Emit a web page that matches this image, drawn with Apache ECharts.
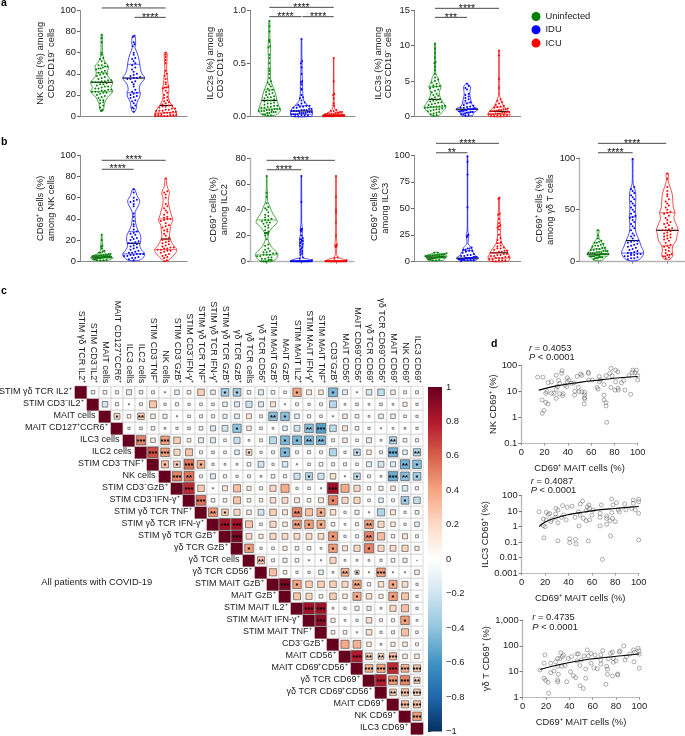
<!DOCTYPE html>
<html><head><meta charset="utf-8">
<style>html,body{margin:0;padding:0;background:#fff}#c{width:685px;height:736px}</style>
<script src="https://cdn.jsdelivr.net/npm/echarts@6/dist/echarts.min.js"></script></head>
<body><div id="c"></div>
<script>
// ---------- violin data: values, outline [value, relative density], [q1, median, q3]
const a1U=[5,5,6,8,10,12,13,15,15,17,18,19,20,21,22,22,23,23,23,24,24,25,25,26,26,27,28,28,29,30,30,31,32,32,32,33,33,34,34,35,36,37,38,39,40,40,41,42,43,44,45,45,46,47,47,48,48,50,52,54,55,58,60,70,74,77];
const a1Us=[[5,.12],[8,.2],[12,.25],[18,.55],[23,1],[27,.85],[32,1],[37,.6],[41,.5],[47,.6],[52,.25],[57,.12],[65,.06],[72,.06],[77,.05]];
const a1Uq=[23,32,41];
const a1D=[4,7,8,10,12,14,15,17,18,19,20,21,22,23,25,28,30,32,33,35,35,36,36,37,38,39,40,42,44,46,48,50,52,54,55,58,60,66,68,70,75,76];
const a1Ds=[[4,.1],[8,.25],[13,.3],[18,.55],[22,.6],[25,.5],[30,.6],[36,1],[40,.75],[45,.6],[50,.55],[55,.45],[60,.3],[65,.12],[70,.18],[76,.1]];
const a1Dq=[22,36,49];
const a1I=[0,0,0,0,0,1,1,1,2,2,2,3,3,3,4,4,5,5,5,6,6,7,7,8,9,9,10,10,11,12,13,14,15,17,18,20,22,24,26,27,27,28,30,32,35,38,40,43,50,53,56,58,60];
const a1Is=[[0,1],[1,1],[5,.9],[10,.55],[15,.3],[20,.22],[25,.3],[30,.22],[38,.14],[45,.08],[55,.12],[60,.12]];
const a1Iq=[3,10,27];
const a2U=[.01,.01,.02,.02,.03,.03,.04,.04,.04,.05,.05,.05,.06,.06,.06,.07,.07,.07,.08,.08,.09,.09,.1,.1,.11,.12,.12,.13,.14,.15,.15,.16,.17,.18,.18,.19,.2,.21,.22,.23,.24,.25,.26,.28,.3,.32,.33,.36,.4,.43,.45,.5,.55,.58,.65,.66,.7,.72,.8,.85,.9];
const a2Us=[[.01,.5],[.05,1],[.1,.85],[.15,.7],[.2,.6],[.25,.45],[.3,.25],[.35,.12],[.45,.1],[.55,.08],[.65,.12],[.72,.07],[.8,.05],[.9,.04]];
const a2Uq=[.07,.15,.25];
const a2D=[0,0,.01,.01,.01,.02,.02,.02,.02,.03,.03,.03,.03,.04,.04,.04,.05,.05,.05,.05,.06,.06,.06,.07,.07,.08,.08,.09,.09,.1,.1,.11,.12,.13,.15,.17,.18,.2,.25,.26,.3,.32,.33,.4,.46,.5,.52,.73];
const a2Ds=[[0,.9],[.03,1],[.06,.95],[.1,.6],[.14,.25],[.2,.12],[.3,.1],[.4,.06],[.5,.05],[.6,.03],[.73,.02]];
const a2Dq=[.02,.05,.1];
const a2I=[0,0,0,0,0,0,0,0,0,0,.01,.01,.01,.01,.01,.01,.01,.01,.01,.02,.02,.02,.02,.02,.03,.03,.04,.04,.05,.05,.06,.1,.12,.17,.2,.21,.33,.55];
const a2Is=[[0,1],[.01,1],[.03,.6],[.06,.15],[.1,.06],[.2,.03],[.35,.02],[.55,.01]];
const a2Iq=[0,.01,.03];
const a3U=[.1,.2,.3,.4,.5,.6,.7,.8,.9,1,1,1.1,1.2,1.2,1.3,1.3,1.4,1.4,1.5,1.5,1.6,1.7,1.8,1.9,2,2.1,2.2,2.3,2.4,2.5,2.7,2.9,3,3.2,3.4,3.6,3.8,4,4.1,4.2,4.3,4.4,4.6,4.8,5,5.2,5.5,6,6.5,7,7.5,7.7,8.3,9,9.6,10.3];
const a3Us=[[.1,.3],[.7,.7],[1.3,1],[1.8,.8],[2.4,.55],[3,.42],[3.5,.4],[4.2,.55],[4.8,.35],[5.5,.25],[6,.08],[7,.05],[8,.05],[9,.03],[10.3,.05]];
const a3Uq=[1.3,2.4,4.2];
const a3D=[.1,.2,.3,.3,.4,.5,.5,.6,.6,.7,.7,.8,.8,.9,.9,1,1,1,1,1.1,1.1,1.2,1.2,1.3,1.4,1.5,1.6,1.8,2,2.2,2.4,2.6,2.8,3,3.2,3.8,4,4.3,4.6];
const a3Ds=[[.1,.5],[.5,.6],[1,1],[1.4,.55],[2,.4],[2.7,.3],[3.2,.25],[3.8,.3],[4.2,.3],[4.6,.1]];
const a3Dq=[.6,1,1.9];
const a3I=[0,.05,.1,.1,.2,.2,.3,.3,.3,.4,.4,.4,.5,.5,.6,.6,.7,.7,.8,.8,.9,.9,1,1,1.1,1.2,1.3,1.4,1.5,1.6,1.8,2,2.2,2.4,4,5.3,8.6,9.3];
const a3Is=[[0,.9],[.4,1],[.8,.8],[1.3,.5],[1.8,.3],[2.4,.15],[3,.05],[4,.03],[5.3,.03],[7,.02],[9.3,.02]];
const a3Iq=[.3,.7,1.3];
const b1U=[1,1,1,1.5,2,2,2,2.5,2.5,3,3,3,3,3.5,3.5,3.5,4,4,4,4,4,4.5,4.5,4.5,5,5,5,5,5.5,5.5,6,6,6,7,7,8,8,9,10,12,14,15,20,25];
const b1Us=[[1,.6],[3,1],[5,.85],[7,.4],[10,.12],[14,.08],[20,.05],[25,.03]];
const b1Uq=[3,4,6];
const b1D=[1,2,3,3,4,5,5,6,6,7,7,7,8,8,9,10,11,12,13,14,15,16,17,17,18,19,20,21,22,23,25,26,27,28,30,33,35,38,42,45,52,54,56,57,58,60,65,68];
const b1Ds=[[1,.5],[4,.9],[7,1],[11,.7],[15,.55],[20,.65],[25,.6],[29,.4],[33,.25],[38,.15],[42,.12],[47,.15],[52,.4],[57,.55],[62,.3],[68,.1]];
const b1Dq=[7,17,28];
const b1I=[0,1,3,4,5,6,7,8,9,10,10,11,11,12,12,13,13,14,15,16,17,18,19,20,21,22,24,26,28,29,30,32,33,34,36,38,39,40,40,41,42,44,46,48,50,52,54,60,63,65,66,78];
const b1Is=[[0,.15],[3,.45],[7,.85],[11,1],[15,.7],[20,.45],[24,.35],[29,.4],[34,.45],[39,.65],[44,.5],[50,.35],[55,.25],[60,.25],[65,.35],[70,.15],[74,.08],[78,.07]];
const b1Iq=[11,21,40];
const b2U=[0,0,0,0,1,1,1,2,2,3,3,4,4,5,5,5,6,6,7,7,8,9,10,12,13,17,20,21,22,22,23,24,26,27,28,29,30,30,31,32,32,33,34,35,36,38,40,41,42,45,50,53,66];
const b2Us=[[0,.5],[3,.95],[6,1],[10,.55],[13,.3],[17,.12],[22,.2],[26,.5],[30,.95],[33,.85],[37,.55],[42,.3],[47,.08],[53,.06],[60,.03],[66,.03]];
const b2Uq=[5,22,32];
const b2D=[0,0,0,0,0,0,0,0,0,0,0,0,0,0,0,0,0,0,0,0,1,2,3,5,6,7,8,9,10,11,12,13,14,15,16,16,17,17,18,20,23,24,25,25,46,66];
const b2Ds=[[0,1],[1.5,.7],[3,.1],[5,.12],[9,.12],[14,.16],[17,.16],[21,.08],[25,.1],[30,.03],[46,.03],[66,.02]];
const b2Dq=[0,0,14];
const b2I=[0,0,0,0,0,0,0,0,0,0,0,0,0,0,0,0,0,0,0,0,0,0,0,0,0,1,2,3,11,12,12,12,13,20,30,38,40,50,66];
const b2Is=[[0,1],[1.5,.7],[3,.2],[6,.05],[11,.08],[13,.1],[20,.03],[30,.03],[40,.04],[50,.03],[66,.02]];
const b2Iq=[0,0,3];
const b3U=[1,1,1.5,2,2,2,2.5,2.5,3,3,3,3.5,3.5,3.5,4,4,4,4,4.5,4.5,4.5,5,5,5,5,5.5,5.5,6,6,6,6.5,7,7,7.5,8,8];
const b3Us=[[1,.7],[3,.85],[5,1],[7,.4],[8.5,.1]];
const b3Uq=[3,4,6];
const b3D=[0,1,1,1,1,2,2,2,2,2,3,3,3,3,3,3,4,4,4,5,5,6,6,7,8,9,10,10,11,11,12,12,13,23,24,25,51,82,94,99];
const b3Ds=[[1,.7],[3,1],[6,.65],[10,.45],[13,.35],[16,.08],[22,.08],[25,.12],[28,.04],[40,.02],[52,.02],[70,.02],[82,.02],[94,.02],[99,.02]];
const b3Dq=[2,3,10];
const b3I=[0,0,1,1,1,2,2,3,3,3,4,4,5,5,6,6,7,7,8,8,8,9,9,10,10,11,12,12,13,14,15,17,18,20,22,25,30,32,33,34,36,40,44,45,59,60];
const b3Is=[[0,.8],[3,1],[7,.85],[11,.65],[16,.3],[20,.18],[26,.12],[32,.16],[40,.08],[45,.08],[52,.03],[60,.05]];
const b3Iq=[3,8,17];
const b4U=[2,3,3,3,4,4,4,4,5,5,5,5,6,6,6,6,7,7,7,7,7,8,8,8,8,9,9,9,10,10,10,11,11,12,12,13,13,14,15,15,16,17,18,18,19,20,22,25,30];
const b4Us=[[1,.3],[4,.7],[7,1],[10,.75],[14,.55],[18,.35],[22,.12],[26,.06],[30,.1]];
const b4Uq=[5,7,12];
const b4D=[2,3,3,4,5,5,6,6,7,7,8,8,9,10,11,12,13,14,15,16,17,18,19,20,20,22,24,25,27,30,32,34,36,38,40,42,43,44,46,48,50,52,54,56,58,60,62,64,66,68,70,72,99];
const b4Ds=[[1,.45],[5,.9],[9,1],[14,.8],[20,.6],[28,.3],[35,.25],[43,.3],[50,.25],[58,.28],[65,.28],[70,.2],[75,.05],[85,.03],[95,.03],[99,.04]];
const b4Dq=[8,20,43];
const b4I=[3,4,5,5,6,6,7,8,10,11,13,14,15,16,18,20,21,22,23,24,25,26,27,28,29,30,30,31,32,33,35,36,37,38,40,42,44,46,47,48,50,52,54,56,58,60,63,65,68,72,80,85];
const b4Is=[[2,.25],[6,.5],[10,.45],[15,.5],[20,.8],[26,.9],[30,1],[36,.8],[42,.6],[47,.7],[52,.55],[58,.5],[65,.45],[72,.25],[78,.08],[82,.1],[85,.1]];
const b4Iq=[15,30,47];
// ---------- correlation matrix
const corrLabels=['STIM γδ TCR IL2⁺','STIM CD3⁻IL2⁺','MAIT cells','MAIT CD127⁺CCR6⁺','ILC3 cells','ILC2 cells','STIM CD3⁻TNF⁺','NK cells','STIM CD3⁻GzB⁺','STIM CD3⁻IFN-γ⁺','STIM γδ TCR TNF⁺','STIM γδ TCR IFN-γ⁺','STIM γδ TCR GzB⁺','γδ TCR GzB⁺','γδ TCR cells','γδ TCR CD56⁺','STIM MAIT GzB⁺','MAIT GzB⁺','STIM MAIT IL2⁺','STIM MAIT IFN-γ⁺','STIM MAIT TNF⁺','CD3⁻GzB⁺','MAIT CD56⁺','MAIT CD69⁺CD56⁺','γδ TCR CD69⁺','γδ TCR CD69⁺CD56⁺','MAIT CD69⁺','NK CD69⁺','ILC3 CD69⁺'];
const corrRows=[
[-.07,.08,-.06,-.15,-.07,.05,.01,-.12,.08,.25,-.12,-.35,-.35,-.08,-.15,-.08,-.04,.4,.14,.12,-.45,-.14,-.01,-.18,-.25,.12,-.05,-.05],
[-.18,-.06,-.01,.05,.28,.03,-.06,-.03,.04,-.04,-.12,-.15,-.22,-.15,.15,-.01,-.05,-.03,.05,-.28,-.02,-.04,-.02,-.04,-.02,.1,-.03],
[.2,.08,.25,.12,.1,-.01,.04,-.05,-.06,-.1,-.13,.14,-.05,-.42,-.42,-.12,-.06,-.04,-.01,.12,-.08,-.02,-.12,-.12,-.04,-.03],
[-.03,-.04,.08,.02,-.03,-.04,-.08,-.15,-.2,-.4,.12,.04,-.02,-.12,-.2,-.42,-.55,-.25,.15,.08,-.03,-.01,.02,-.02,-.03],
[.5,.12,.42,.25,.08,-.15,-.15,-.04,-.22,-.02,-.05,-.28,-.45,-.45,-.45,-.45,-.05,.12,.04,-.15,-.02,-.3,-.08,-.06],
[.65,.42,.22,.28,.05,-.04,-.04,-.12,.2,-.03,-.05,-.45,-.05,-.06,-.05,-.3,.03,-.25,.12,-.05,-.48,-.12,-.3],
[.3,.25,.55,.35,-.03,-.02,-.02,.08,-.2,-.03,-.18,-.01,-.04,.08,.06,-.05,.04,-.15,-.2,-.15,-.48,-.42],
[.5,.55,.05,-.15,-.06,-.03,.05,.02,-.08,-.06,-.22,-.3,-.22,.18,-.01,-.25,-.05,-.02,-.5,-.42,-.35],
[.75,.25,-.01,.15,.3,.1,.06,.22,.38,.03,-.04,.01,.85,.38,.22,.07,.1,.12,-.18,-.06],
[.55,.08,.08,.28,.08,.07,.18,.2,.14,.08,.14,.5,.22,.22,-.04,-.12,.05,-.35,-.25],
[.45,.25,.22,.12,-.2,.25,.15,.5,.3,.38,.18,.03,.1,-.01,-.3,.15,.03,-.08],
[.85,.85,.28,.04,.22,.12,.42,.42,.38,.08,.02,.06,.42,.22,.12,.03,-.12],
[.95,.2,.1,.22,.2,.2,.2,.2,.45,.03,.06,.5,.32,.07,.15,.05],
[.42,.03,.04,.1,-.08,-.08,.02,.42,.15,.22,.5,.22,.2,.22,.1],
[.3,.05,.1,.08,.01,.01,.22,.02,.02,-.02,.03,-.08,-.1,.002],
[.3,.08,.03,-.03,-.12,.02,.35,.1,.01,.42,.01,.01,.12],
[.95,.4,.25,.25,.25,.22,.4,.07,.18,.38,.2,.03],
[.28,.22,.08,.25,.12,.38,.18,.1,.42,.28,.03],
[.85,.85,.02,.03,.1,.1,.02,.22,.3,.03],
[.9,.1,.02,.03,.18,.05,.06,.42,.02],
[.08,.08,.01,.18,.03,.05,.3,.04],
[.38,.35,.12,.02,.1,.12,.05],
[.8,.25,.2,.3,.12,.12],
[.35,.4,.75,.35,.28],
[.8,.45,.5,.22],
[.25,.3,.25],
[.3,.3],
[.42]];
const corrStars=[[1,13,1],[1,14,1],[1,19,1],[1,22,1],[3,4,1],[3,6,2],[3,17,2],[3,18,1],[4,14,1],[4,20,2],[4,21,3],[5,6,3],[5,8,3],[5,18,1],[5,19,1],[5,20,2],[5,21,2],[5,27,2],[6,7,3],[6,8,3],[6,15,1],[6,18,1],[6,24,1],[6,27,3],[6,29,2],[7,8,1],[7,9,1],[7,10,3],[7,11,1],[7,28,2],[7,29,1],[8,9,3],[8,10,2],[8,20,1],[8,24,1],[8,27,3],[8,28,2],[8,29,1],[9,10,3],[9,22,3],[10,11,3],[10,22,1],[10,28,1],[11,12,2],[11,13,1],[11,19,2],[11,21,1],[12,13,3],[12,14,3],[12,19,2],[12,20,1],[12,21,1],[12,25,2],[13,14,3],[13,22,1],[13,25,2],[14,15,1],[14,22,1],[14,25,1],[15,16,2],[16,23,2],[16,24,1],[16,26,3],[17,18,3],[17,19,1],[17,24,2],[17,27,1],[18,24,1],[18,27,1],[19,20,3],[19,21,3],[20,21,3],[20,28,1],[23,24,3],[23,25,2],[23,26,2],[23,27,3],[24,25,3],[24,26,3],[24,27,3],[24,28,3],[24,29,3],[25,26,3],[25,27,3],[25,28,3],[25,29,2],[26,27,2],[26,28,3],[26,29,3],[27,28,3],[27,29,3],[28,29,3]];
const colorTicks=[-1,1];
// ---------- scatter panels (MAIT %, other %)
const d1Pts=[[14,35],[18.6,35],[17.8,4.6],[21,3.7],[23,3.2],[19.5,1.8],[18,1.4],[23,21.5],[26,23],[30,41],[32,26],[34.7,49],[35,62],[39.5,33],[41,27],[39.5,23],[45,21],[48,37],[51,46],[52,41],[57.6,54],[57.6,49],[58,27],[61,27],[67,37],[68,27],[67,23],[73,40],[76,49],[77,76],[81,65],[83,56],[78,39],[81,23],[86,21],[88,26],[92.5,40],[95.7,65],[95.4,52],[97.7,52],[99,65],[100,40],[100,27],[30,11.8],[31,15],[26,8.3],[22,9.6],[21,8.3],[30,5.3],[28,8.3],[33,20],[36,8],[37.5,17],[33,8],[35.5,6.7],[45.8,7],[46,10],[49,14],[49.5,9.6],[52,9.6],[54.4,9],[54.4,7.2],[54.4,5.6],[54.4,4.9],[54,3.2],[65,14],[66,12],[71,18],[71,7],[71,4.6],[72.8,3.6],[72.8,2.7],[73.4,.63],[77,14],[80.5,11],[83,13],[83.4,11],[94,7.6],[89,11],[39,15],[43,20]];
const d1Fit=[[15,11],[30,16],[50,22],[70,28],[85,33],[100,37]];
const d2Pts=[[14.8,9.2],[18.5,3.1],[18.5,1.15],[20,1],[19,.19],[21,8.4],[22.8,6.2],[24,7],[21,2.7],[25,2.1],[29.3,15],[31,12],[29,6.5],[29,4],[25.6,2.9],[31,1.8],[31,.12],[35,23],[39,18],[43,21],[38,2.7],[36,5.6],[34,4],[41,.16],[41,.092],[46,.15],[46.4,.076],[45.6,4],[49,1.1],[50,29],[52,45],[48.5,9.2],[50,5.6],[52.7,3.4],[55,2.4],[55,10.7],[57,.12],[57.5,25],[56,19],[58,15],[58,2.7],[60,5.6],[61,11.8],[67,4],[67,1.1],[68,25],[69,.0076],[67,7.2],[72.6,4.8],[72.6,3.4],[72.6,1.4],[75.5,2.4],[76,.25],[77,61],[78,25],[77,8],[77.5,3.4],[80,2.1],[81,35],[82.6,12],[83.5,9.2],[88,29],[89,12],[94,15],[95.4,52],[95.4,32],[97,12],[100,58],[100,41],[100,7.2],[100,.14]];
const d2Fit=[[15,1],[20,2],[30,3.8],[40,6],[50,8],[60,10.5],[70,13],[80,15],[90,17.5],[100,20]];
const d3Pts=[[14.9,11.5],[19,44],[18.3,21],[18.3,5.5],[19.7,4.6],[21.7,3.8],[22.3,1.43],[24,21],[24,9],[26.8,10.5],[28.3,24],[30,32],[30,16],[30,4.7],[30,4],[30.6,7.8],[32,32],[32.6,54],[34,38],[35,44],[33.4,16],[36.3,17],[37.7,4],[39,32],[42,38],[41,9.8],[43.4,6.9],[45.4,5.8],[46.6,48],[47.7,48],[46.6,26],[49,17],[49.1,2.8],[52,2.2],[50.3,28],[52.6,40],[54,12.5],[54,5.5],[55.4,69],[56.3,40],[58.6,50],[58.6,21],[61,14],[62,44],[64,12.7],[67,44],[67,28],[67,19.5],[68.6,65],[71.4,3.2],[72,16],[72.6,12.3],[72.6,7.8],[73.4,31],[75.4,51],[77,56],[77.7,32],[77.7,23],[77,6.7],[81.4,7.4],[81.4,8],[80,26],[82.9,58],[83.4,63],[86.6,98],[87.7,28],[89,38],[92,48],[95,69],[95.4,24],[96,56],[99,80],[99.7,63],[100,47],[100,13.4]];
const d3Fit=[[15,12],[30,18],[50,27],[70,35],[85,41],[100,48]];
const groupNames=['Uninfected','IDU','ICU'];
const legendColors=['#008000','#0000ff','#ff0000'];

// ---------- layout (not data)
const FONT='"Liberation Sans",Arial,sans-serif';
const TXT='#222';
const PAD=11;
const FS=9.4;
const panels=[
 {l:80,r:187,t:10.5,b:116,c:[101.7,134,165.7],max:100,iv:20,name:'NK cells (%) among\nCD3⁻CD19⁻ cells',gap:21.8,v:[[a1U,a1Us,a1Uq],[a1D,a1Ds,a1Dq],[a1I,a1Is,a1Iq]],br:[[1,3,102.4,'****'],[2.03,3,93.5,'****']]},
 {l:250,r:355,t:10.3,b:116.3,c:[269.3,301.7,333.7],max:1,iv:.5,fix:1,name:'ILC2s (%) among\nCD3⁻CD19⁻ cells',gap:23.8,v:[[a2U,a2Us,a2Uq],[a2D,a2Ds,a2Dq],[a2I,a2Is,a2Iq]],br:[[1,3,1.028,'****'],[1,2,.94,'****'],[2.03,3,.94,'****']]},
 {l:414,r:520.7,t:10.3,b:116.3,c:[435,467.3,499],max:15,iv:5,name:'ILC3s (%) among\nCD3⁻CD19⁻ cells',gap:19.8,v:[[a3U,a3Us,a3Uq],[a3D,a3Ds,a3Dq],[a3I,a3Is,a3Iq]],br:[[1,3,15.28,'****'],[1,2,14,'***']]},
 {l:80,r:187,t:155.3,b:261.3,c:[101.7,133.3,165.7],max:100,iv:20,name:'CD69⁺ cells (%)\namong NK cells',gap:21.5,v:[[b1U,b1Us,b1Uq],[b1D,b1Ds,b1Dq],[b1I,b1Is,b1Iq]],br:[[1,3,95.3,'****'],[1,2,86.8,'****']]},
 {l:250,r:354,t:158,b:261.3,c:[266.7,301.3,336],max:80,iv:20,soft:1,name:'CD69⁺ cells (%)\namong ILC2',gap:20,v:[[b2U,b2Us,b2Uq],[b2D,b2Ds,b2Dq],[b2I,b2Is,b2Iq]],br:[[1,2.97,78.2,'****'],[1,2,70.9,'****']]},
 {l:414,r:520.7,t:155.3,b:261.3,c:[436,467.3,499],max:100,iv:25,name:'CD69⁺ cells (%)\namong ILC3',gap:20.5,v:[[b3U,b3Us,b3Uq],[b3D,b3Ds,b3Dq],[b3I,b3Is,b3Iq]],br:[[1,3,111.3,'****'],[1,2,102.4,'**']]},
 {l:579.3,r:685,t:158,b:261.3,c:[598,632.7,667.3],max:100,iv:50,soft:1,name:'CD69⁺ cells (%)\namong γδ T cells',gap:19.1,v:[[b4U,b4Us,b4Uq],[b4D,b4Ds,b4Dq],[b4I,b4Is,b4Iq]],br:[[1,2.97,114.2,'****'],[1,2,105.1,'****']]}
];
const grid=[],xAxis=[],yAxis=[],series=[];
const interp=(s,v)=>{if(v<=s[0][0])return s[0][1];for(let i=1;i<s.length;i++)if(v<=s[i][0]){const a=s[i-1],b=s[i];return a[1]+(b[1]-a[1])*(v-a[0])/(b[0]-a[0]);}return s[s.length-1][1];};
function addGrid(l,t,w,h){grid.push({left:l,top:t,width:w,height:h});return grid.length-1;}
const tickStyle={color:TXT,fontFamily:FONT,fontSize:FS};

panels.forEach(p=>{
 const g=addGrid(p.l,p.t,p.r-p.l,p.b-p.t);
 const unit=(p.c[2]-p.c[0])/2, axC=p.soft?'#b5b5b5':'#8a8a8a', axW=p.soft?1.4:1;
 xAxis.push({gridIndex:g,type:'value',min:1-(p.c[0]-p.l)/unit,max:3+(p.r-p.c[2])/unit,splitLine:{show:false},axisLabel:{show:false},
  axisLine:{show:true,onZero:false,lineStyle:{color:axC,width:axW}},axisTick:p.soft?{show:true,length:2.5,customValues:[1,2,3],lineStyle:{color:'#888'}}:{show:false}});
 yAxis.push({gridIndex:g,type:'value',min:0,max:p.max,interval:p.iv,splitLine:{show:false},
  axisLine:{show:true,lineStyle:{color:axC,width:axW}},axisTick:{show:true,length:3,lineStyle:{color:'#666'}},
  axisLabel:{...tickStyle,margin:4,formatter:p.fix?(v=>v.toFixed(1)):undefined},
  name:p.name,nameLocation:'middle',nameRotate:90,nameGap:p.gap,nameTextStyle:{color:TXT,fontFamily:FONT,fontSize:FS,lineHeight:10.8}});
 const binH=p.max*3.2/(p.b-p.t);
 p.v.forEach((trip,gi)=>{
  const [vals,shape,q]=trip, col=legendColors[gi], cat=gi+1;
  series.push({type:'custom',name:groupNames[gi],xAxisIndex:g,yAxisIndex:g,z:2,data:shape,silent:true,clip:false,itemStyle:{color:col},
   renderItem:(pr,api)=>{
    if(pr.dataIndex!==0)return null;
    const L=[],R=[];
    shape.forEach(s=>{const c=api.coord([cat,s[0]]),w=s[1]*PAD;L.push([c[0]-w,c[1]]);R.unshift([c[0]+w,c[1]]);});
    const kids=[{type:'polygon',shape:{points:L.concat(R),smooth:.35},style:{fill:'rgba(255,255,255,0)',stroke:col,lineWidth:.7}}];
    q.forEach((v,i)=>{const c=api.coord([cat,v]),w=Math.max(interp(shape,v)*PAD,2);
     kids.push({type:'line',shape:{x1:c[0]-w,y1:c[1],x2:c[0]+w,y2:c[1]},style:i==1?{stroke:'#000',lineWidth:1.1}:{stroke:col,lineWidth:.6},z2:i==1?5:1});});
    return {type:'group',children:kids};
   }});
  const bins={};vals.forEach(v=>{const k=Math.round(v/binH);(bins[k]=bins[k]||[]).push(v);});
  const pts=[];
  Object.values(bins).forEach(b=>{const hw=Math.max(interp(shape,b[0])*PAD-.5,.6),sp=b.length>1?Math.min(3.2,2*hw/(b.length-1)):0;
   b.forEach((v,i)=>pts.push([cat+(i-(b.length-1)/2)*sp/unit,v]));});
  series.push({type:'scatter',name:groupNames[gi],xAxisIndex:g,yAxisIndex:g,z:3,symbolSize:2,itemStyle:{color:col,opacity:1},data:pts,silent:true,clip:false});
 });
 series.push({type:'custom',xAxisIndex:g,yAxisIndex:g,data:p.br.map(b=>b.slice(0,3)),silent:true,clip:false,
  renderItem:(pr,api)=>{const b=p.br[pr.dataIndex],a=api.coord([b[0],b[2]]),c=api.coord([b[1],b[2]]);
   return {type:'group',children:[{type:'line',shape:{x1:a[0],y1:a[1],x2:c[0],y2:c[1]},style:{stroke:'#333',lineWidth:.9}},
    {type:'text',style:{text:b[3],x:(a[0]+c[0])/2,y:a[1]+.3,textAlign:'center',textVerticalAlign:'middle',fill:'#222',fontFamily:FONT,fontSize:10.5}}]};}});
});

// ---------- correlation matrix
const RAMP=['#053061','#2166AC','#4393C3','#92C5DE','#D1E5F0','#FFFFFF','#FDDBC7','#F4A582','#D6604D','#B2182B','#67001F'];
const hex=h=>[1,3,5].map(i=>parseInt(h.substr(i,2),16));
function ramp(r){const t=(r+1)/2*10,i=Math.min(9,Math.floor(t)),f=t-i,a=hex(RAMP[i]),b=hex(RAMP[i+1]);
 return 'rgb('+a.map((x,k)=>Math.round(x+(b[k]-x)*f)).join(',')+')';}
const mg=addGrid(75,386.3,348,348);
xAxis.push({gridIndex:mg,type:'category',position:'top',data:corrLabels,axisLine:{show:false},axisTick:{show:false},splitLine:{show:false},
 axisLabel:{interval:0,rotate:90,margin:3,color:TXT,fontFamily:FONT,fontSize:9}});
yAxis.push({gridIndex:mg,type:'category',inverse:true,data:corrLabels,axisLine:{show:false},axisTick:{show:false},axisLabel:{show:false},splitLine:{show:false}});
const cells=[];
corrLabels.forEach((_,i)=>cells.push([i,i,1]));
corrRows.forEach((row,ri)=>row.forEach((r,k)=>cells.push([ri+k+1,ri,r])));
const starMap={};corrStars.forEach(s=>starMap[(s[0]-1)+'_'+(s[1]-1)]=s[2]);
series.push({type:'custom',xAxisIndex:mg,yAxisIndex:mg,data:cells,silent:true,clip:false,z:2,encode:{x:0,y:1},
 renderItem:(pr,api)=>{
  const c=api.value(0),rw=api.value(1),r=api.value(2),p=api.coord([c,rw]),sz=api.size([1,1]),S=sz[0];
  const kids=[{type:'rect',shape:{x:p[0]-S/2,y:p[1]-S/2,width:S,height:S},style:{fill:'#fff',stroke:'#d2d2d2',lineWidth:.8}}];
  if(c===rw){kids.push({type:'rect',shape:{x:p[0]-S/2,y:p[1]-S/2,width:S,height:S},style:{fill:'#67001F',stroke:'#67001F',lineWidth:.5}});
   return {type:'group',children:kids};}
  const side=Math.min(S*.94,S*Math.sqrt(Math.abs(r))*1.1);
  kids.push({type:'rect',shape:{x:p[0]-side/2,y:p[1]-side/2,width:side,height:side},style:{fill:ramp(r),stroke:'rgba(50,50,50,.75)',lineWidth:.75}});
  const n=starMap[rw+'_'+c];
  if(n)kids.push({type:'text',style:{text:'*'.repeat(n),x:p[0],y:p[1]+1.6,textAlign:'center',textVerticalAlign:'middle',fill:'#000',fontFamily:FONT,fontSize:7.5,fontWeight:'bold'}});
  return {type:'group',children:kids};
 }});
series.push({type:'custom',xAxisIndex:mg,yAxisIndex:mg,data:corrLabels.map((_,i)=>[i,i]),silent:true,clip:false,encode:{x:0,y:1},
 renderItem:(pr,api)=>{const i=pr.dataIndex,p=api.coord([i,i]);
  return {type:'text',style:{text:corrLabels[i],x:p[0]-9.5,y:p[1]-.5,textAlign:'right',textVerticalAlign:'middle',fill:TXT,fontFamily:FONT,fontSize:9}};}});
// colour bar
const cg=addGrid(428,387,14,346);
xAxis.push({gridIndex:cg,type:'value',min:0,max:1,show:false});
yAxis.push({gridIndex:cg,type:'value',position:'right',min:-1,max:1,interval:.2,splitLine:{show:false},axisLine:{show:false},
 axisTick:{show:true,length:3,lineStyle:{color:'#444'}},axisLabel:{...tickStyle,margin:4,align:'left',formatter:v=>{const x=+v.toFixed(1);return (x<0?'−':'')+Math.abs(x);}}});
series.push({type:'custom',xAxisIndex:cg,yAxisIndex:cg,data:[colorTicks],silent:true,clip:false,encode:{y:[0,1]},
 renderItem:(pr,api)=>{const a=api.coord([0,1]),b=api.coord([1,-1]);
  return {type:'rect',shape:{x:a[0],y:a[1],width:b[0]-a[0],height:b[1]-a[1]},
   style:{fill:new echarts.graphic.LinearGradient(0,0,0,1,RAMP.slice().reverse().map((c,i)=>({offset:i/10,color:c})))}};}});

// ---------- scatter panels
const dPanels=[
 {l:521.3,r:637.7,t:365.3,b:443,min:.1,max:100,name:'NK CD69⁺ (%)',gap:22.3,pts:d1Pts,fit:d1Fit},
 {l:521.7,r:638.7,t:495.7,b:573,min:.001,max:100,name:'ILC3 CD69⁺ (%)',gap:29.7,pts:d2Pts,fit:d2Fit},
 {l:522.7,r:639.3,t:620,b:697.3,min:1,max:1000,name:'γδ T CD69⁺ (%)',gap:28.7,pts:d3Pts,fit:d3Fit}
];
dPanels.forEach(d=>{
 const g=addGrid(d.l,d.t,d.r-d.l,d.b-d.t);
 xAxis.push({gridIndex:g,type:'value',min:0,max:100,interval:20,splitLine:{show:false},axisLine:{show:true,onZero:false,lineStyle:{color:'#bbb',width:1}},
  axisTick:{show:true,length:2.5,lineStyle:{color:'#999'}},axisLabel:{...tickStyle,margin:5},
  name:'CD69⁺ MAIT cells (%)',nameLocation:'middle',nameGap:21,nameTextStyle:{color:TXT,fontFamily:FONT,fontSize:FS}});
 yAxis.push({gridIndex:g,type:'log',logBase:10,min:d.min,max:d.max,splitLine:{show:false},axisLine:{show:true,onZero:false,lineStyle:{color:'#bbb',width:1.4}},
  axisTick:{show:true,length:3,lineStyle:{color:'#777'}},minorTick:{show:false},
  axisLabel:{...tickStyle,margin:4,formatter:v=>v>=1000?'1,000':String(+(+v).toPrecision(1))},
  name:d.name,nameLocation:'middle',nameRotate:90,nameGap:d.gap,nameTextStyle:{color:TXT,fontFamily:FONT,fontSize:FS}});
 series.push({type:'scatter',xAxisIndex:g,yAxisIndex:g,data:d.pts,symbolSize:4,silent:true,itemStyle:{color:'rgba(255,255,255,0)',borderColor:'#555',borderWidth:.6}});
 series.push({type:'line',xAxisIndex:g,yAxisIndex:g,data:d.fit,smooth:true,symbol:'none',silent:true,lineStyle:{color:'#000',width:1.1},z:4});
});

const txt=(x,y,text,extra)=>({type:'text',x,y,silent:true,style:Object.assign({text,fill:TXT,fontFamily:FONT,fontSize:FS,textVerticalAlign:'middle'},extra||{})});
const letter=(x,y,t)=>txt(x,y,t,{fontWeight:'bold',fontSize:10.5,fill:'#000'});
const stat=(x,y,t)=>txt(x,y,t,{rich:{i:{fontStyle:'italic',fontFamily:FONT,fontSize:FS,fill:TXT}}});
const graphic=[letter(1,3,'a'),letter(1,142,'b'),letter(1,291,'c'),letter(491,344,'d'),
 txt(41.3,582.3,'All patients with COVID-19'),
 stat(529,348,'{i|r} = 0.4053'),stat(529,357.5,'{i|P} < 0.0001'),
 stat(530.7,481,'{i|r} = 0.4087'),stat(530.7,490.7,'{i|P} < 0.0001'),
 stat(532.3,617.7,'{i|r} = 0.4735'),stat(532.3,627.7,'{i|P} < 0.0001')];

const chart=echarts.init(document.getElementById('c'),null,{renderer:'canvas',width:685,height:736});
chart.setOption({backgroundColor:'#fff',animation:false,
 legend:{orient:'vertical',left:531.5,top:12,padding:0,itemWidth:9,itemHeight:9,itemGap:4.3,icon:'circle',selectedMode:false,data:groupNames,
  textStyle:{color:TXT,fontFamily:FONT,fontSize:FS}},
 grid,xAxis,yAxis,series,graphic});
</script></body></html>
